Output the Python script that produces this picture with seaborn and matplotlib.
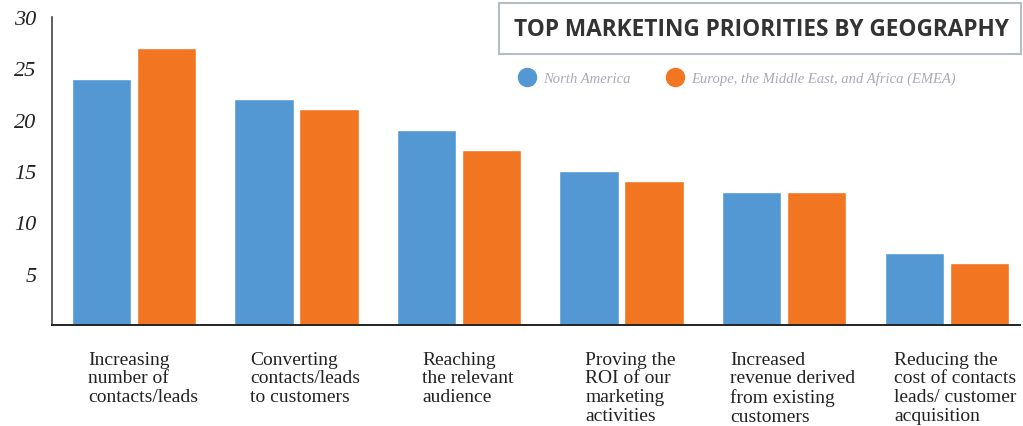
import numpy as np
import pandas as pd
import seaborn as sns
import matplotlib.pyplot as plt
from matplotlib.patches import Rectangle
from matplotlib.lines import Line2D

categories = [
    "Increasing\nnumber of\ncontacts/leads",
    "Converting\ncontacts/leads\nto customers",
    "Reaching\nthe relevant\naudience",
    "Proving the\nROI of our\nmarketing\nactivities",
    "Increased\nrevenue derived\nfrom existing\ncustomers",
    "Reducing the\ncost of contacts\nleads/ customer\nacquisition",
]
series = ["North America", "Europe, the Middle East, and Africa (EMEA)"]
north_america = [24, 22, 19, 15, 13, 7]
emea = [27, 21, 17, 14, 13, 6]
y_ticks = [5, 10, 15, 20, 25, 30]

blue = "#5398d3"
orange = "#f27622"

df = pd.DataFrame({
    "cat": categories * 2,
    "region": [series[0]] * 6 + [series[1]] * 6,
    "value": north_america + emea,
})

sns.set_style("white")
fig = plt.figure(figsize=(10.23, 4.27), dpi=100)
ax = fig.add_axes([0.0508, 0.2365, 0.946, 0.7213])

sns.barplot(data=df, x="cat", y="value", hue="region", palette=[blue, orange],
            width=0.8, gap=0.09, saturation=1, legend=False, ax=ax)

ax.set_xlim(-0.505, 5.45)
ax.set_ylim(0, 30)
ax.set_xlabel("")
ax.set_ylabel("")
ax.set_yticks(y_ticks)
ax.set_yticklabels([str(t) for t in y_ticks], family="Liberation Serif",
                   style="italic", fontsize=16, color="#222222")
ax.tick_params(axis="y", length=5, width=1, color="#444444", pad=6)
ax.set_xticks([])
for side in ["top", "right"]:
    ax.spines[side].set_visible(False)
ax.spines["left"].set_color("#444444")
ax.spines["left"].set_linewidth(1.2)
ax.spines["bottom"].set_color("#222222")
ax.spines["bottom"].set_linewidth(1.4)

# category labels under the groups
for i, lab in enumerate(categories):
    ax.text(i + 0.055, -0.084, lab, transform=ax.get_xaxis_transform(),
            ha="center", va="top", multialignment="left",
            family="Liberation Serif", fontsize=14, color="#222222",
            linespacing=1.12)

# title box
fig.patches.append(Rectangle((499 / 1023, 1 - 55 / 427), 522 / 1023, 51 / 427,
                             transform=fig.transFigure, fill=False,
                             edgecolor="#b8bcc8", linewidth=1.5))
fig.text(761 / 1023, 1 - 30 / 427, "TOP MARKETING PRIORITIES BY GEOGRAPHY",
         ha="center", va="center", family="Open Sans", fontweight="bold",
         fontsize=16.3, color="#333333")

# legend
handles = [Line2D([], [], marker="o", linestyle="", markersize=13,
                  markerfacecolor=c, markeredgecolor=c) for c in [blue, orange]]
fig.legend(handles, series, loc="center left",
           bbox_to_anchor=(499 / 1023, 1 - 79 / 427), ncol=2, frameon=False,
           handletextpad=0.1, columnspacing=2.1,
           prop={"family": "Liberation Serif", "style": "italic", "size": 10.5},
           labelcolor="#a8aab8")

fig.savefig("out.png", dpi=100)
